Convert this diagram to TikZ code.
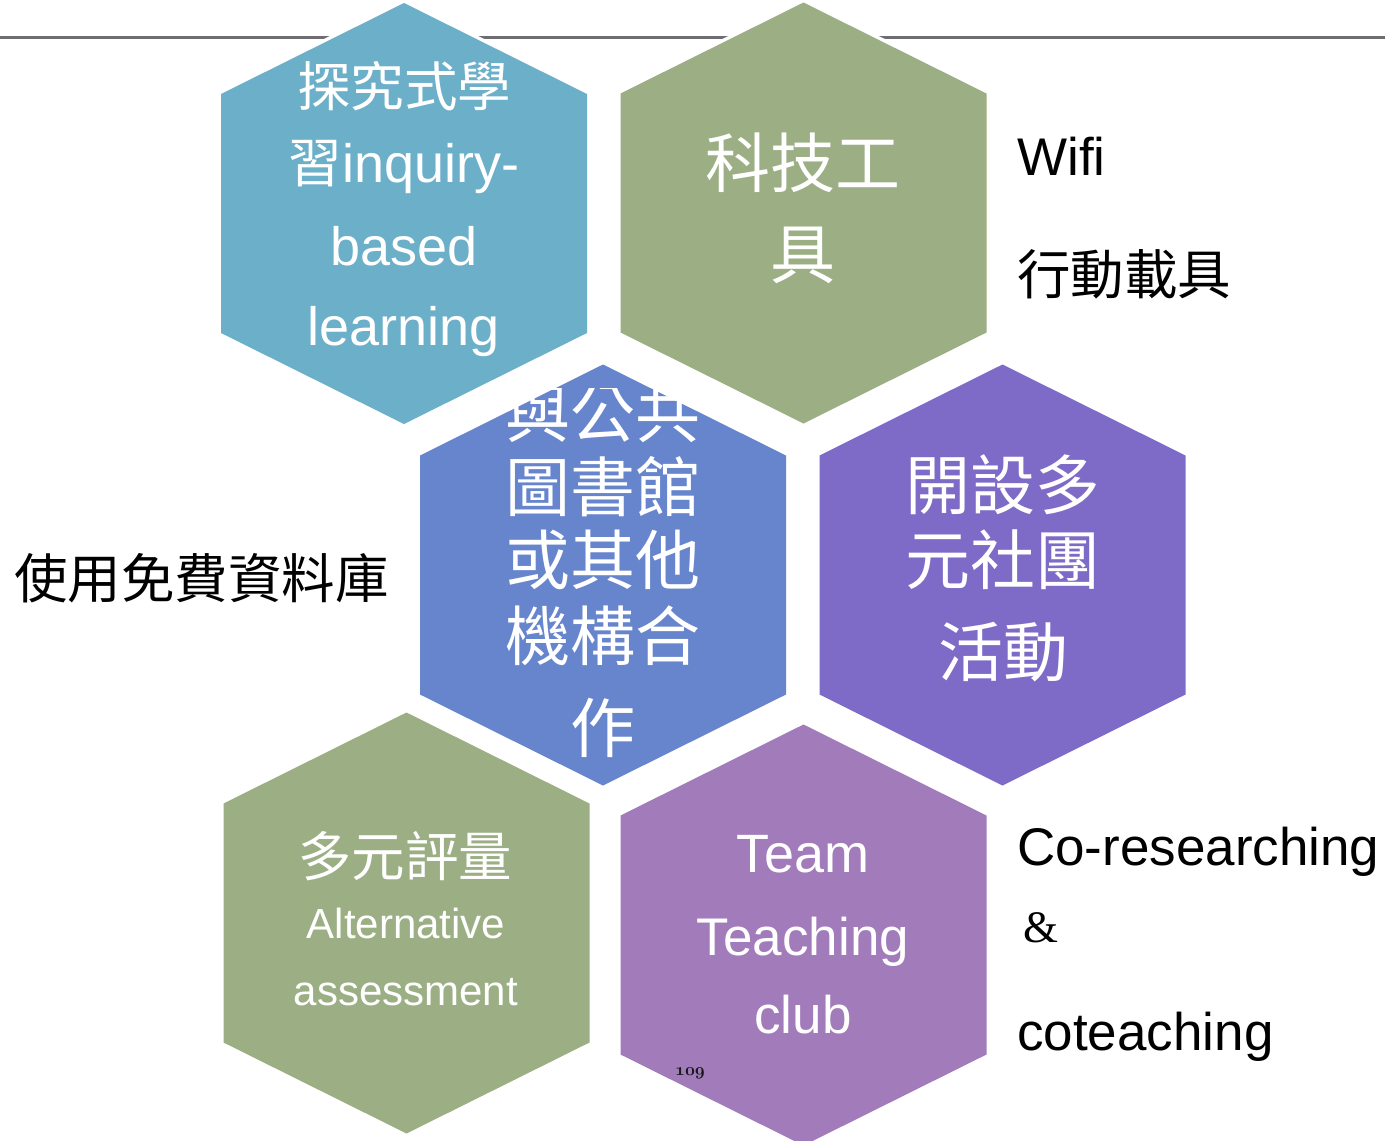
\documentclass[tikz,border=0pt]{standalone}
\usepackage{fontspec}
\setmainfont{Liberation Sans}
\newfontfamily\cjk{Noto Sans CJK TC}
\newfontfamily\timesfont{Liberation Serif}
\usetikzlibrary{positioning}

\definecolor{hexblue}{HTML}{6BAFC9}
\definecolor{hexgreen}{HTML}{9CAF84}
\definecolor{hexazure}{HTML}{6685CD}
\definecolor{hexviolet}{HTML}{7E6BC7}
\definecolor{hexorchid}{HTML}{A27BBB}
\definecolor{rulegray}{HTML}{6E6D72}

\begin{document}
\begin{tikzpicture}[
        x=1pt, y=-1pt,
        hexcell/.style={fill=#1, preaction={draw=white, line width=7pt, line join=miter}},
        cjkbig/.style={font=\cjk\fontsize{65}{70}\selectfont, text=white, inner sep=0pt},
        cjksmall/.style={font=\cjk\fontsize{53.5}{60}\selectfont, inner sep=0pt},
        latin/.style={font=\fontsize{#1}{#1}\selectfont, inner sep=0pt, anchor=base},
        side/.style={text=black, anchor=base west}
    ]

    \clip (0,0) rectangle (1385,1141);

    % rule at the top
    \draw[rulegray, line width=3pt] (0,37.5) -- (1385,37.5);

    % hexagons
    \foreach \cx/\cy/\col in {404/213.5/hexblue, 803.5/213/hexgreen, 603/575/hexazure,
                             1002.5/575/hexviolet, 406.5/923/hexgreen, 803.5/935/hexorchid}
        \fill[hexcell=\col] (\cx,\cy-210.5) -- (\cx+183,\cy-119.5) -- (\cx+183,\cy+119.5)
            -- (\cx,\cy+210.5) -- (\cx-183,\cy+119.5) -- (\cx-183,\cy-119.5) -- cycle;

    % inquiry cell
    \node[cjksmall, text=white] (inq1) at (404,86) {探究式學};
    \node[latin=54, text=white] (inq2) at (404,182) {{\cjk\fontsize{53.5}{60}\selectfont 習}inquiry-};
    \node[latin=54, text=white] (inq3) at (404,265) {based};
    \node[latin=54, text=white] (inq4) at (404,345) {learning};

    % technology cell
    \node[cjkbig] (tech1) at (803,163) {科技工};
    \node[cjkbig] (tech2) at (803,255) {具};

    % library cell
    \begin{scope}
        \clip (420,388) rectangle (786,785);
        \node[cjkbig] (lib1) at (603,413) {與公共};
    \end{scope}
    \node[cjkbig] (lib2) at (603,487) {圖書館};
    \node[cjkbig] (lib3) at (603,560) {或其他};
    \node[cjkbig] (lib4) at (603,636) {機構合};
    \node[cjkbig] (lib5) at (603,728) {作};

    % club cell
    \node[cjkbig] (club1) at (1003,485) {開設多};
    \node[cjkbig] (club2) at (1003,560) {元社團};
    \node[cjkbig] (club3) at (1003,652) {活動};

    % assessment cell
    \node[cjksmall, text=white] (assess1) at (405,856) {多元評量};
    \node[latin=42, text=white] (assess2) at (406,938) {Alternative};
    \node[latin=42, text=white] (assess3) at (406,1005) {assessment};

    % team teaching cell
    \node[latin=54, text=white] (team1) at (803,872) {Team};
    \node[latin=53, text=white] (team2) at (803,955) {Teaching};
    \node[latin=53, text=white] (team3) at (803,1033) {club};
    \node[inner sep=0pt, text=black!90] (pagenum) at (690,1073)
        {\usefont{OML}{cmm}{b}{it}\fontsize{17}{17}\selectfont 109};

    % side notes
    \node[latin=53, side] (wifi) at (1017,175) {Wifi};
    \node[cjksmall, anchor=west] (mobile) at (1017,274) {行動載具};
    \node[latin=53, side] (cores) at (1017,865) {Co-researching};
    \node[side, inner sep=0pt, font=\timesfont\fontsize{45}{45}\selectfont] (amp) at (1023,942) {\&};
    \node[latin=53, side] (coteach) at (1017,1050) {coteaching};
    \node[cjksmall, anchor=west] (database) at (14,578) {使用免費資料庫};

\end{tikzpicture}
\end{document}
